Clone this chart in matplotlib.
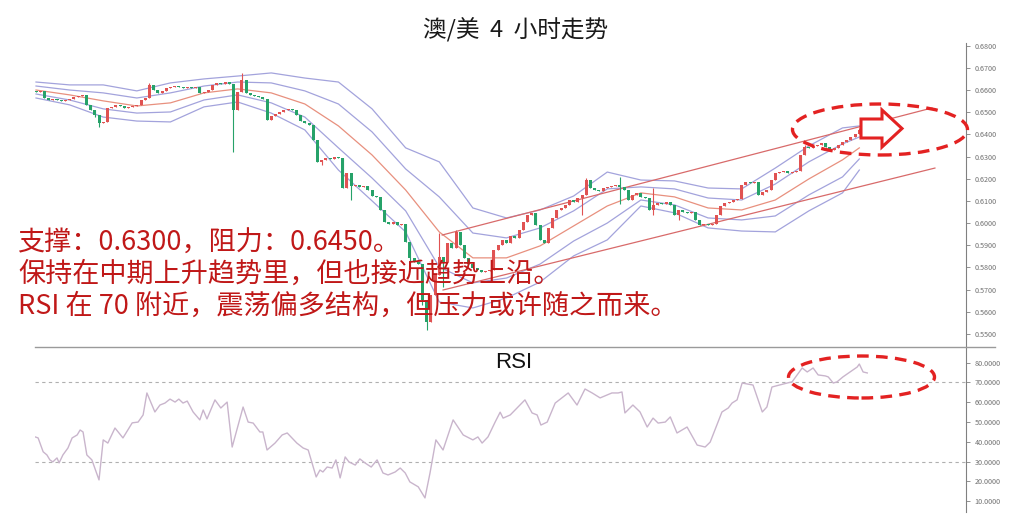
import matplotlib
matplotlib.use("Agg")
import matplotlib.pyplot as plt
from matplotlib.patches import Ellipse, Polygon, Rectangle
from matplotlib.lines import Line2D
from matplotlib.ticker import FormatStrFormatter

plt.rcParams['font.family'] = ['Noto Sans CJK SC', 'DejaVu Sans']

# ---------------- data ----------------
title = "澳/美  4  小时走势"
notes = ["支撑：0.6300，阻力：0.6450。",
         "保持在中期上升趋势里，但也接近趋势上沿。",
         "RSI 在 70 附近，震荡偏多结构，但压力或许随之而来。"]
rsi_label = "RSI"

closes = [
    0.6591, 0.6596, 0.6564, 0.6555, 0.6560, 0.6555, 0.6551, 0.6555, 0.6560, 0.6569,
    0.6573, 0.6578, 0.6533, 0.6510, 0.6487, 0.6451, 0.6456, 0.6519, 0.6524, 0.6533,
    0.6528, 0.6519, 0.6524, 0.6528, 0.6533, 0.6555, 0.6564, 0.6623, 0.6600, 0.6587,
    0.6596, 0.6609, 0.6614, 0.6618, 0.6614, 0.6609, 0.6614, 0.6609, 0.6614, 0.6587,
    0.6591, 0.6600, 0.6623, 0.6632, 0.6627, 0.6636, 0.6627, 0.6510, 0.6591, 0.6645,
    0.6587, 0.6578, 0.6573, 0.6569, 0.6560, 0.6465, 0.6483, 0.6492, 0.6501, 0.6510,
    0.6515, 0.6510, 0.6487, 0.6460, 0.6451, 0.6442, 0.6375, 0.6276, 0.6285, 0.6293,
    0.6289, 0.6298, 0.6293, 0.6158, 0.6226, 0.6167, 0.6172, 0.6163, 0.6167, 0.6149,
    0.6122, 0.6118, 0.6059, 0.6005, 0.5996, 0.6005, 0.5991, 0.5996, 0.5915, 0.5843,
    0.5824, 0.5816, 0.5653, 0.5554, 0.5676, 0.5766, 0.5847, 0.5824, 0.5910, 0.5888,
    0.5960, 0.5901, 0.5843, 0.5816, 0.5797, 0.5788, 0.5779, 0.5784, 0.5788, 0.5879,
    0.5901, 0.5924, 0.5910, 0.5942, 0.5933, 0.5969, 0.6005, 0.6036, 0.6046, 0.5991,
    0.5924, 0.5910, 0.5978, 0.6023, 0.6059, 0.6068, 0.6082, 0.6104, 0.6095, 0.6113,
    0.6127, 0.6194, 0.6158, 0.6149, 0.6145, 0.6158, 0.6163, 0.6167, 0.6172, 0.6163,
    0.6149, 0.6104, 0.6127, 0.6136, 0.6118, 0.6113, 0.6059, 0.6082, 0.6091, 0.6086,
    0.6095, 0.6082, 0.6036, 0.6059, 0.6050, 0.6046, 0.6050, 0.6014, 0.5991, 0.5996,
    0.5991, 0.5996, 0.6036, 0.6077, 0.6091, 0.6095, 0.6104, 0.6109, 0.6172, 0.6185,
    0.6181, 0.6185, 0.6127, 0.6140, 0.6149, 0.6194, 0.6226, 0.6230, 0.6235, 0.6226,
    0.6230, 0.6235, 0.6307, 0.6343, 0.6339, 0.6348, 0.6352, 0.6361, 0.6343, 0.6330,
    0.6339, 0.6352, 0.6366, 0.6375, 0.6388, 0.6402, 0.6420,
]
first_open = 0.6596
opens = [first_open] + closes[:-1]

wick_high = {27: 0.6632, 49: 0.6677, 96: 0.5955, 100: 0.5969, 131: 0.6203,
             139: 0.6208, 147: 0.6158, 183: 0.6352, 196: 0.6429}
wick_low = {14: 0.6478, 15: 0.6433, 47: 0.6321, 68: 0.6262, 75: 0.6104, 89: 0.5820,
            92: 0.5630, 93: 0.5518, 97: 0.5712, 130: 0.6036, 139: 0.6086,
            147: 0.6036, 153: 0.6014}

band_idx = [0, 8, 16, 24, 32, 40, 48, 56, 64, 72, 80, 88, 96, 104, 112, 120, 128,
            136, 144, 152, 160, 168, 176, 184, 192, 196]
upper_outer = [0.6636, 0.6623, 0.6623, 0.6596, 0.6632, 0.6650, 0.6663, 0.6677, 0.6654,
               0.6636, 0.6515, 0.6339, 0.6276, 0.6068, 0.6023, 0.6059, 0.6122, 0.6230,
               0.6194, 0.6190, 0.6158, 0.6154, 0.6248, 0.6348, 0.6429, 0.6438]
upper_inner = [0.6618, 0.6600, 0.6587, 0.6564, 0.6587, 0.6618, 0.6636, 0.6632, 0.6596,
               0.6537, 0.6411, 0.6244, 0.6118, 0.5955, 0.5933, 0.5978, 0.6055, 0.6154,
               0.6163, 0.6154, 0.6113, 0.6104, 0.6176, 0.6276, 0.6357, 0.6388]
middle_band = [0.6600, 0.6578, 0.6551, 0.6528, 0.6542, 0.6587, 0.6605, 0.6587, 0.6537,
               0.6438, 0.6307, 0.6149, 0.5960, 0.5843, 0.5843, 0.5897, 0.5987, 0.6077,
               0.6136, 0.6118, 0.6068, 0.6059, 0.6104, 0.6199, 0.6285, 0.6339]
lower_inner = [0.6582, 0.6555, 0.6515, 0.6496, 0.6501, 0.6555, 0.6578, 0.6542, 0.6478,
               0.6339, 0.6203, 0.6055, 0.5802, 0.5730, 0.5752, 0.5815, 0.5919, 0.6000,
               0.6104, 0.6082, 0.6023, 0.6014, 0.6032, 0.6127, 0.6208, 0.6289]
lower_outer = [0.6564, 0.6533, 0.6478, 0.6460, 0.6456, 0.6524, 0.6546, 0.6496, 0.6420,
               0.6239, 0.6100, 0.5960, 0.5644, 0.5617, 0.5662, 0.5734, 0.5852, 0.5924,
               0.6077, 0.6046, 0.5978, 0.5964, 0.5960, 0.6055, 0.6136, 0.6239]

channel_upper_idx = [96.7, 213.3]
channel_upper_px = [0.5946, 0.6519]
channel_lower_idx = [96.9, 214.0]
channel_lower_px = [0.5698, 0.6248]

rsi_pos = [-0.2, 0.5, 1.7, 2.6, 3.3, 4.0, 5.0, 5.5, 6.4, 7.6,
           8.6, 9.8, 10.5, 11.2, 12.1, 13.3, 15.0, 16.0, 17.1, 18.8,
           20.7, 22.9, 24.3, 25.5, 26.4, 28.3, 29.5, 30.7, 31.9, 33.1,
           34.0, 35.0, 36.0, 37.4, 39.0, 39.8, 40.7, 42.6, 44.0, 45.5,
           46.7, 49.3, 50.5, 51.7, 53.3, 54.0, 55.0, 56.9, 58.6, 59.8,
           62.1, 63.6, 64.8, 66.7, 67.6, 68.3, 69.3, 70.5, 71.4, 72.4,
           73.6, 74.5, 76.0, 77.1, 78.3, 79.8, 81.2, 82.6, 83.8, 85.5,
           86.7, 87.9, 89.0, 91.0, 92.6, 93.8, 95.2, 96.9, 99.3, 101.7,
           104.0, 105.2, 106.2, 107.6, 109.3, 110.5, 111.2, 112.9, 114.5, 116.4,
           118.1, 119.3, 120.2, 121.7, 123.6, 125.2, 126.7, 128.8, 130.7, 132.4,
           134.3, 136.0, 137.1, 138.6, 139.5, 140.2, 142.1, 143.8, 145.5, 146.9,
           148.1, 149.8, 151.0, 152.6, 155.0, 157.4, 159.3, 160.5, 163.3, 164.8,
           165.7, 166.9, 168.1, 170.7, 172.9, 174.0, 175.2, 178.8, 180.0, 182.4,
           183.6, 185.0, 186.2, 187.9, 188.6, 189.8, 190.7, 192.1, 193.8, 195.5,
           196.0, 196.9, 197.9]
rsi_val = [42.5, 42, 35, 33.4, 30.9, 29.9, 31.9, 29.4, 33.4, 36.9,
           42, 43.5, 46, 45, 33.4, 30.9, 20.8, 41, 39.4, 47,
           42, 49.6, 50, 53.6, 64.7, 55.1, 58.6, 59.6, 61.6, 60.1,
           61.6, 59.6, 60.6, 55.1, 51.1, 56.1, 51.6, 61.2, 57.1, 60.1,
           37.4, 57.6, 50, 49.5, 45, 45, 35.9, 39.4, 43.5, 44.5,
           39.4, 36.9, 35.9, 22.3, 25.8, 24.8, 27.3, 26.8, 30.9, 21.8,
           32.4, 29.9, 28.3, 31.4, 29.4, 27.3, 30.9, 24.3, 23.3, 24.8,
           26.8, 24.3, 19.8, 17.3, 11.7, 24.3, 41, 35.9, 51.1, 43.5,
           41, 42.5, 39.4, 42.5, 50, 55, 52, 53.6, 57.1, 61.2,
           54.6, 53.6, 48.5, 50, 59.6, 62.2, 64.7, 58.6, 66.7, 64.7,
           62.2, 63.7, 64.7, 64.7, 65.2, 54.6, 58.6, 55.1, 47.5, 52,
           49.5, 50, 52.6, 44.5, 47.5, 38.4, 37.4, 39.9, 55.1, 57.1,
           59.6, 61.2, 69.7, 68.7, 55.1, 57.6, 67.7, 69.7, 70.3, 77.3,
           75.3, 77.3, 73.8, 73.3, 72.8, 69.7, 70.3, 72.8, 75.3, 77.8,
           79.3, 75.3, 74.8]

price_ticks = [0.55, 0.56, 0.57, 0.58, 0.59, 0.60, 0.61, 0.62, 0.63, 0.64, 0.65,
               0.66, 0.67, 0.68]
rsi_ticks = [10, 20, 30, 40, 50, 60, 70, 80]
rsi_levels = [30, 70]

# ---------------- figure ----------------
W, H = 1011, 532
fig = plt.figure(figsize=(W / 100, H / 100), dpi=100)
fig.patch.set_facecolor("white")


def fx(px):
    return px / W


def fy(py):
    return 1 - py / H


ax = fig.add_axes([fx(35), fy(347), fx(966) - fx(35), fy(43) - fy(347)])
ax2 = fig.add_axes([fx(35), fy(512), fx(966) - fx(35), fy(347) - fy(512)])

XMIN, XMAX = -0.24, 221.4

UP, DOWN = "#e05252", "#26a269"
for i, (o, c) in enumerate(zip(opens, closes)):
    col = UP if c >= o else DOWN
    hi = wick_high.get(i, max(o, c))
    lo = wick_low.get(i, min(o, c))
    if hi > lo:
        ax.vlines(i, lo, hi, color=col, lw=0.8, zorder=3)
    body = max(abs(c - o), 0.00006)
    ax.add_patch(Rectangle((i - 0.36, min(o, c)), 0.72, body, facecolor=col,
                           edgecolor="none", zorder=4))

blue = "#a3a3dc"
for arr in (upper_outer, upper_inner, lower_inner, lower_outer):
    ax.plot(band_idx, arr, color=blue, lw=0.9, zorder=2)
ax.plot(band_idx, middle_band, color="#e8907e", lw=0.9, zorder=2)
ax.plot(channel_upper_idx, channel_upper_px, color="#d86a6a", lw=0.9, zorder=2)
ax.plot(channel_lower_idx, channel_lower_px, color="#d86a6a", lw=0.9, zorder=2)

ax.set_xlim(XMIN, XMAX)
ax.set_ylim(0.5441, 0.6812)

ax2.plot(rsi_pos, rsi_val, color="#c9b5cc", lw=1.0, zorder=3)
for lv in rsi_levels:
    ax2.axhline(lv, color="#b0b0b0", lw=0.8, ls=(0, (3, 3)), zorder=1)
ax2.set_xlim(XMIN, XMAX)
ax2.set_ylim(4.6, 87.9)

for a, ticks in ((ax, price_ticks), (ax2, rsi_ticks)):
    for s in ("top", "left", "bottom"):
        a.spines[s].set_visible(False)
    a.spines["right"].set_color("#808080")
    a.spines["right"].set_linewidth(0.8)
    a.yaxis.tick_right()
    a.set_yticks(ticks)
    a.yaxis.set_major_formatter(FormatStrFormatter("%.4f"))
    a.tick_params(axis="y", labelsize=5.2, colors="#808080", labelcolor="#707070",
                  length=3, width=0.6, pad=3)
    a.set_xticks([])
    a.patch.set_alpha(0)

# separator line between panels
fig.add_artist(Line2D([fx(35), fx(995)], [fy(347), fy(347)], color="#9a9a9a", lw=1.0))

# titles & notes
fig.text(fx(516), fy(30), title, ha="center", va="center", fontsize=17, color="#1a1a1a")
ax2.text((514 - 35) / 931, (512 - 363) / 165, rsi_label,
         transform=ax2.transAxes, ha="center", va="center", fontsize=16,
         color="#111111", family=["Liberation Sans", "DejaVu Sans"])
for k, line in enumerate(notes):
    fig.text(fx(18), fy(243 + 31.5 * k), line, ha="left", va="center",
             fontsize=19.5, color="#c01818", fontweight="light")

# annotations
red = "#e32222"
e1 = Ellipse((fx(880), fy(129.5)), fx(175), 51 / H, transform=fig.transFigure,
             fill=False, edgecolor=red, lw=2.4, ls=(0, (3.5, 2.2)), zorder=10)
fig.add_artist(e1)
e2 = Ellipse((fx(861.5), fy(377)), fx(146), 42 / H, transform=fig.transFigure,
             fill=False, edgecolor=red, lw=2.4, ls=(0, (3.5, 2.2)), zorder=10)
fig.add_artist(e2)
arrow_px = [(861, 119), (882, 119), (882, 110), (902, 128.5), (882, 147), (882, 138),
            (861, 138)]
arrow = Polygon([(fx(x), fy(y)) for x, y in arrow_px], closed=True,
                transform=fig.transFigure, facecolor="white", edgecolor=red,
                lw=2.2, zorder=11)
fig.add_artist(arrow)

fig.savefig("out.png", dpi=100, facecolor="white")
